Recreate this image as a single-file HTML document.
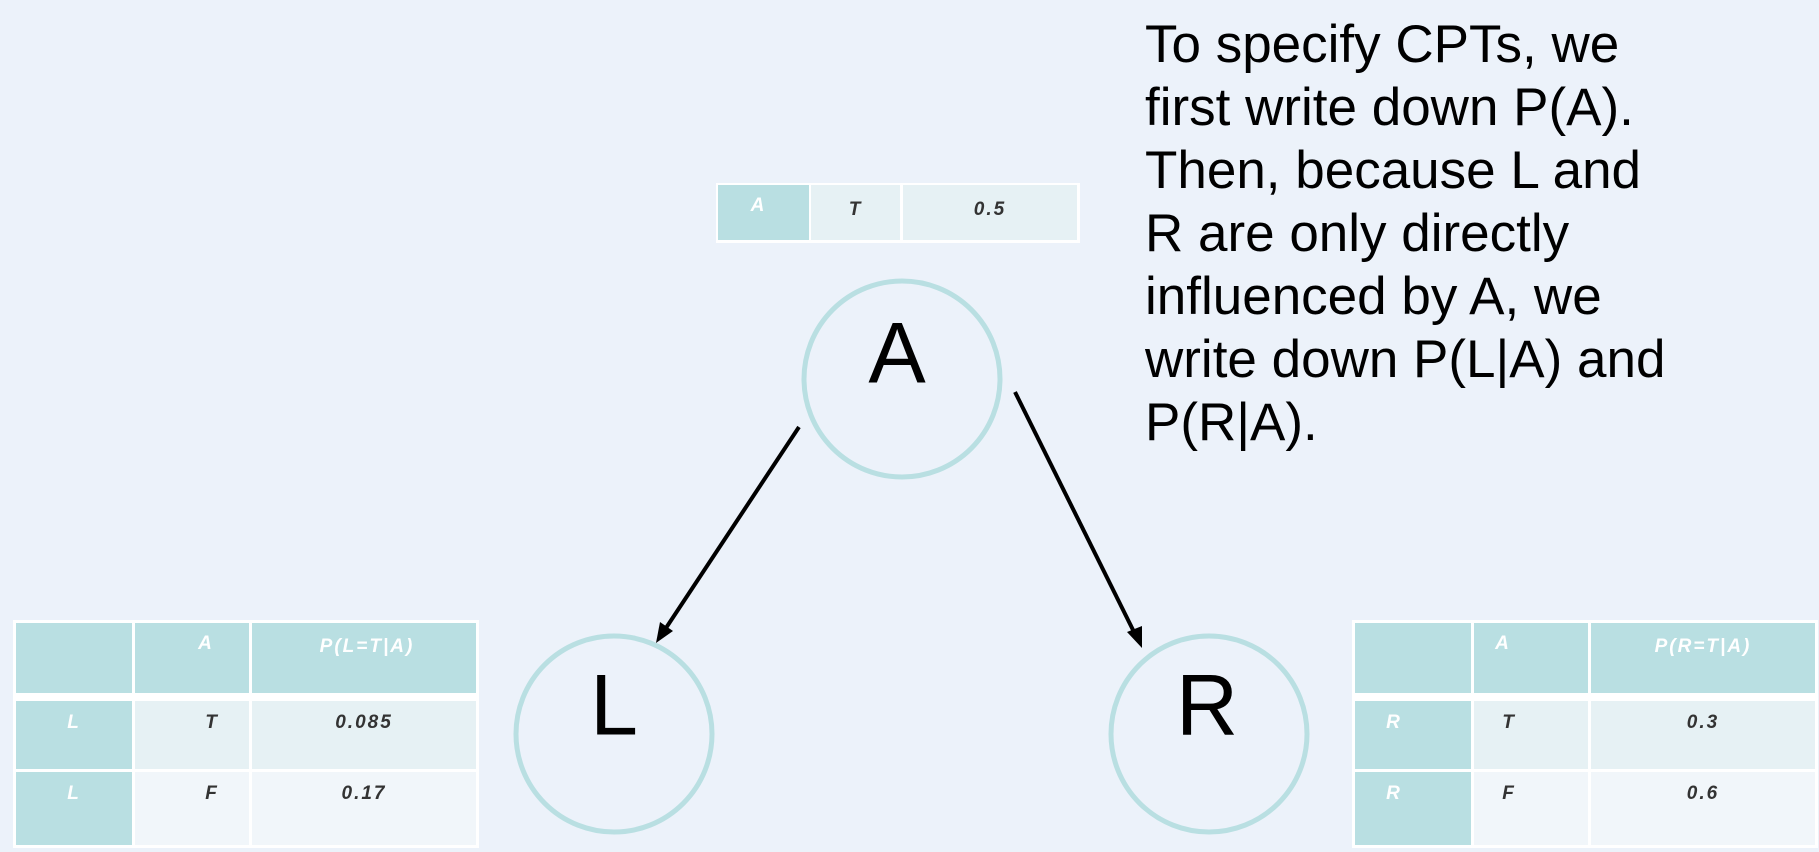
<!DOCTYPE html>
<html><head><style>
body{margin:0;width:1819px;height:852px;background:#ecf2fa;position:relative;overflow:hidden;font-family:"Liberation Sans",sans-serif}
.c{position:absolute;box-sizing:border-box;font-style:italic;font-weight:bold;font-size:19px;letter-spacing:2px;text-align:center}
.h{background:#b9dfe2;color:#fff}
.d1{background:#e6f1f4;color:#333}
.d2{background:#f1f6fa;color:#333}
.txt{position:absolute;left:1145px;top:13px;font-size:53px;line-height:63px;color:#000;letter-spacing:0px;white-space:nowrap}
.wb{position:absolute;background:#fff}
</style></head><body>
<svg width="1819" height="852" style="position:absolute;left:0;top:0">
<circle cx="902" cy="379" r="98" fill="none" stroke="#b9dfe2" stroke-width="5"/>
<circle cx="614" cy="734" r="98" fill="none" stroke="#b9dfe2" stroke-width="5"/>
<circle cx="1209" cy="734" r="98" fill="none" stroke="#b9dfe2" stroke-width="5"/>
<line x1="799" y1="427" x2="664" y2="631" stroke="#000" stroke-width="4"/>
<polygon points="656,643 660,622 673,631" fill="#000"/>
<line x1="1015" y1="392" x2="1136" y2="636" stroke="#000" stroke-width="4"/>
<polygon points="1142,648 1127,632 1142,626" fill="#000"/>
<text x="897" y="360" font-family="Liberation Sans" font-size="86" text-anchor="middle" dominant-baseline="middle">A</text>
<text x="614" y="712" font-family="Liberation Sans" font-size="86" text-anchor="middle" dominant-baseline="middle">L</text>
<text x="1207" y="712" font-family="Liberation Sans" font-size="86" text-anchor="middle" dominant-baseline="middle">R</text>
</svg>

<!-- top table -->
<div class="wb" style="left:716px;top:183px;width:364px;height:60px"></div>
<div class="c h" style="left:718px;top:185px;width:91px;height:55px;padding-top:10px;padding-right:10px">A</div>
<div class="c d1" style="left:811px;top:185px;width:89px;height:55px;padding-top:14px">T</div>
<div class="c d1" style="left:903px;top:185px;width:174px;height:55px;padding-top:14px">0.5</div>

<!-- left table -->
<div class="wb" style="left:13px;top:620px;width:466px;height:228px"></div>
<div class="c h" style="left:16px;top:623px;width:116px;height:70px"></div>
<div class="c h" style="left:135px;top:623px;width:114px;height:70px;padding-top:10px;padding-left:28px">A</div>
<div class="c h" style="left:252px;top:623px;width:224px;height:70px;padding-top:13px;padding-left:6px">P(L=T|A)</div>
<div class="c h" style="left:16px;top:701px;width:116px;height:68px;padding-top:11px">L</div>
<div class="c d1" style="left:135px;top:701px;width:114px;height:68px;padding-top:11px;padding-left:40px">T</div>
<div class="c d1" style="left:252px;top:701px;width:224px;height:68px;padding-top:11px">0.085</div>
<div class="c h" style="left:16px;top:772px;width:116px;height:73px;padding-top:11px">L</div>
<div class="c d2" style="left:135px;top:772px;width:114px;height:73px;padding-top:11px;padding-left:40px">F</div>
<div class="c d2" style="left:252px;top:772px;width:224px;height:73px;padding-top:11px">0.17</div>

<!-- right table -->
<div class="wb" style="left:1352px;top:620px;width:466px;height:228px"></div>
<div class="c h" style="left:1355px;top:623px;width:116px;height:70px"></div>
<div class="c h" style="left:1474px;top:623px;width:114px;height:70px;padding-top:10px;padding-right:56px">A</div>
<div class="c h" style="left:1591px;top:623px;width:224px;height:70px;padding-top:13px">P(R=T|A)</div>
<div class="c h" style="left:1355px;top:701px;width:116px;height:68px;padding-top:11px;padding-right:38px">R</div>
<div class="c d1" style="left:1474px;top:701px;width:114px;height:68px;padding-top:11px;padding-right:44px">T</div>
<div class="c d1" style="left:1591px;top:701px;width:224px;height:68px;padding-top:11px">0.3</div>
<div class="c h" style="left:1355px;top:772px;width:116px;height:73px;padding-top:11px;padding-right:38px">R</div>
<div class="c d2" style="left:1474px;top:772px;width:114px;height:73px;padding-top:11px;padding-right:44px">F</div>
<div class="c d2" style="left:1591px;top:772px;width:224px;height:73px;padding-top:11px">0.6</div>

<div class="txt">To specify CPTs, we<br>first write down P(A).<br>Then, because L and<br>R are only directly<br>influenced by A, we<br>write down P(L|A) and<br>P(R|A).</div>
</body></html>
